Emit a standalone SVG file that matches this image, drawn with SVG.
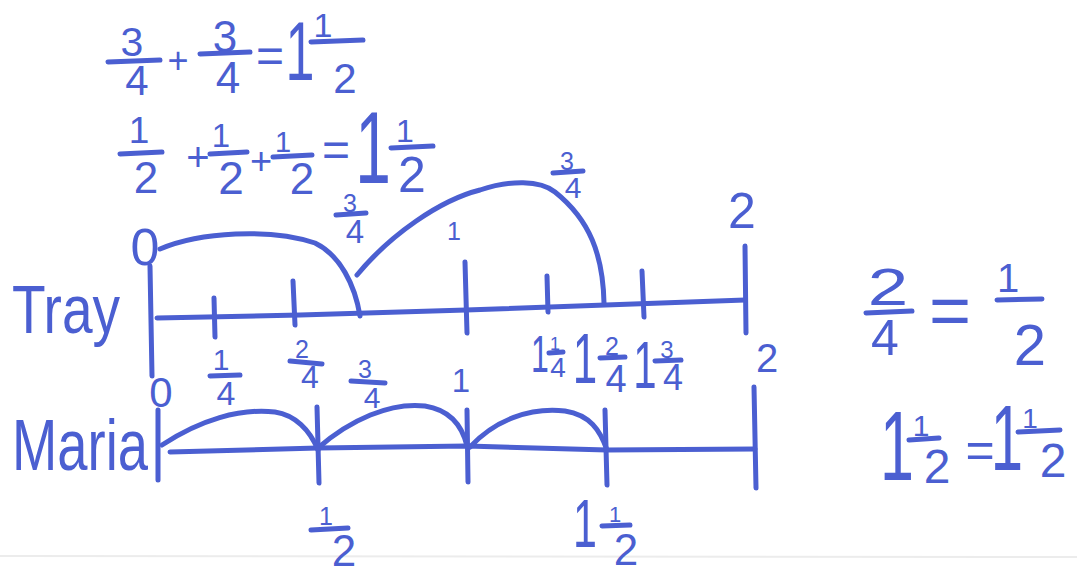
<svg xmlns="http://www.w3.org/2000/svg" width="1077" height="575" viewBox="0 0 1077 575">
<style>
.s{stroke:#4b5fd1;stroke-width:5;stroke-linecap:round;stroke-linejoin:round;fill:none}
.t{fill:#4b5fd1;font-family:"Liberation Sans",Arial,sans-serif;text-anchor:middle}
</style>
<rect width="1077" height="575" fill="#ffffff"/>
<line x1="0" y1="556" x2="1077" y2="557" stroke="#ececec" stroke-width="2"/>

<g id="eq1">
  <text class="t" x="132" y="56" font-size="41">3</text>
  <line class="s" x1="108" y1="62" x2="160" y2="60"/>
  <text class="t" x="137" y="95" font-size="42">4</text>
  <text class="t" x="178" y="73" font-size="36">+</text>
  <text class="t" x="225" y="52" font-size="44">3</text>
  <line class="s" x1="200" y1="54" x2="250" y2="52"/>
  <text class="t" x="228" y="93" font-size="44">4</text>
  <text class="t" x="270" y="72" font-size="48">=</text>
  <text class="t" transform="translate(300,80) scale(1,1.6)" font-size="52">1</text>
  <text class="t" x="323" y="37" font-size="34">1</text>
  <line class="s" x1="311" y1="42" x2="363" y2="40"/>
  <text class="t" x="345" y="93" font-size="42">2</text>
</g>

<g id="eq2">
  <text class="t" x="139" y="143" font-size="37">1</text>
  <line class="s" x1="120" y1="154" x2="162" y2="152"/>
  <text class="t" x="146" y="193" font-size="44">2</text>
  <text class="t" x="198" y="171" font-size="40">+</text>
  <text class="t" x="221" y="147" font-size="33">1</text>
  <line class="s" x1="210" y1="154" x2="247" y2="152"/>
  <text class="t" x="231" y="194" font-size="46">2</text>
  <text class="t" x="261" y="174" font-size="38">+</text>
  <text class="t" x="283" y="152" font-size="29">1</text>
  <line class="s" x1="273" y1="157" x2="312" y2="155"/>
  <text class="t" x="302" y="194" font-size="44">2</text>
  <text class="t" x="336" y="166" font-size="48">=</text>
  <text class="t" transform="translate(373,183) scale(1,1.6)" font-size="64">1</text>
  <text class="t" x="405" y="142" font-size="32">1</text>
  <line class="s" x1="391" y1="148" x2="433" y2="146"/>
  <text class="t" x="412" y="192" font-size="50">2</text>
</g>

<g id="tray">
  <text class="t" x="66" y="333" font-size="68" textLength="108" lengthAdjust="spacingAndGlyphs">Tray</text>
  <text class="t" x="145" y="265" font-size="52">0</text>
  <line class="s" x1="150" y1="266" x2="152" y2="376"/>
  <polyline class="s" points="157,318 300,315 466,310 745,300"/>
  <line class="s" x1="214" y1="298" x2="215" y2="337"/>
  <line class="s" x1="293" y1="281" x2="295" y2="325"/>
  <line class="s" x1="465" y1="262" x2="467" y2="333"/>
  <line class="s" x1="547" y1="276" x2="548" y2="312"/>
  <line class="s" x1="642" y1="271" x2="644" y2="317"/>
  <line class="s" x1="745" y1="246" x2="746" y2="333"/>
  <text class="t" x="742" y="228" font-size="50">2</text>
  <text class="t" x="454" y="240" font-size="25">1</text>
  <text class="t" x="350" y="212" font-size="25">3</text>
  <line class="s" x1="336" y1="215" x2="366" y2="213"/>
  <text class="t" x="355" y="243" font-size="33">4</text>
  <text class="t" x="567" y="170" font-size="25">3</text>
  <line class="s" x1="553" y1="173" x2="583" y2="171"/>
  <text class="t" x="573" y="198" font-size="30">4</text>
  <text class="t" x="221" y="370" font-size="30">1</text>
  <line class="s" x1="210" y1="376" x2="240" y2="375"/>
  <text class="t" x="226" y="405" font-size="34">4</text>
  <text class="t" x="302" y="358" font-size="25">2</text>
  <line class="s" x1="290" y1="361" x2="322" y2="364"/>
  <text class="t" x="310" y="388" font-size="32">4</text>
  <text class="t" x="365" y="378" font-size="25">3</text>
  <line class="s" x1="351" y1="381" x2="385" y2="383"/>
  <text class="t" x="372" y="408" font-size="30">4</text>
  <text class="t" x="461" y="392" font-size="33">1</text>
  <text class="t" transform="translate(540,372) scale(1,1.6)" font-size="32">1</text>
  <text class="t" x="555" y="350" font-size="18">1</text>
  <line class="s" x1="549" y1="353" x2="563" y2="352"/>
  <text class="t" x="558" y="377" font-size="28">4</text>
  <text class="t" transform="translate(585,383) scale(1,1.6)" font-size="44">1</text>
  <text class="t" x="612" y="355" font-size="25">2</text>
  <line class="s" x1="600" y1="358" x2="625" y2="357"/>
  <text class="t" x="616" y="392" font-size="38">4</text>
  <text class="t" transform="translate(645,388) scale(1,1.6)" font-size="42">1</text>
  <text class="t" x="667" y="358" font-size="24">3</text>
  <line class="s" x1="655" y1="361" x2="681" y2="360"/>
  <text class="t" x="673" y="390" font-size="36">4</text>
  <text class="t" x="767" y="372" font-size="40">2</text>
</g>

<g id="maria">
  <text class="t" x="80" y="470" font-size="72" textLength="136" lengthAdjust="spacingAndGlyphs">Maria</text>
  <text class="t" x="161" y="407" font-size="42">0</text>
  <line class="s" x1="158" y1="410" x2="158" y2="480"/>
  <polyline class="s" points="170,452 318,448 467,446 607,450 755,449"/>
  <line class="s" x1="317" y1="407" x2="319" y2="483"/>
  <line class="s" x1="467" y1="410" x2="468" y2="482"/>
  <line class="s" x1="605" y1="410" x2="607" y2="485"/>
  <line class="s" x1="754" y1="387" x2="756" y2="488"/>
  <text class="t" x="326" y="525" font-size="25">1</text>
  <line class="s" x1="311" y1="530" x2="348" y2="528"/>
  <text class="t" x="344" y="566" font-size="44">2</text>
  <text class="t" transform="translate(585,547) scale(1,1.6)" font-size="43">1</text>
  <text class="t" x="615" y="522" font-size="22">1</text>
  <line class="s" x1="602" y1="526" x2="630" y2="525"/>
  <text class="t" x="626" y="565" font-size="44">2</text>
</g>

<g id="connectors">
  <path class="s" d="M160,249 C200,232 270,228 315,243 C340,255 355,285 360,316"/>
  <path class="s" d="M357,275 C390,235 440,200 480,190 C510,180 540,180 555,192 C590,220 603,255 604,303"/>
  <path class="s" d="M162,445 C200,420 240,408 275,412 C295,415 310,430 318,450"/>
  <path class="s" d="M318,448 C350,420 390,402 425,406 C450,410 462,425 467,446"/>
  <path class="s" d="M470,447 C495,420 530,407 565,411 C590,415 600,430 607,450"/>
</g>

<g id="eq3">
  <text class="t" transform="translate(888,305) scale(1.4,1)" font-size="52">2</text>
  <line class="s" x1="866" y1="313" x2="912" y2="311"/>
  <text class="t" x="885" y="355" font-size="50">4</text>
  <text class="t" x="950" y="335" font-size="72">=</text>
  <text class="t" x="1008" y="292" font-size="40">1</text>
  <line class="s" x1="997" y1="300" x2="1042" y2="299"/>
  <text class="t" x="1030" y="365" font-size="58">2</text>
</g>

<g id="eq4">
  <text class="t" transform="translate(897,480) scale(1,1.6)" font-size="61">1</text>
  <text class="t" x="921" y="436" font-size="30">1</text>
  <line class="s" x1="909" y1="440" x2="939" y2="438"/>
  <text class="t" x="937" y="483" font-size="48">2</text>
  <text class="t" x="980" y="467" font-size="50">=</text>
  <text class="t" transform="translate(1007,470) scale(1,1.6)" font-size="58">1</text>
  <text class="t" x="1030" y="428" font-size="28">1</text>
  <line class="s" x1="1018" y1="432" x2="1060" y2="430"/>
  <text class="t" x="1053" y="477" font-size="48">2</text>
</g>
</svg>
